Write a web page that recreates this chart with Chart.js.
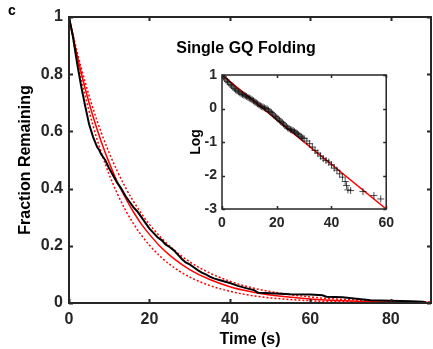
<!DOCTYPE html>
<html>
<head>
<meta charset="utf-8">
<script src="https://cdn.jsdelivr.net/npm/chart.js@4.4.0/dist/chart.umd.min.js"></script>
<style>
  html, body { margin: 0; padding: 0; background: #fff; }
  #wrap { position: relative; width: 433px; height: 349px; }
  #main { position: absolute; left: 0; top: 0; }
  #inset { position: absolute; left: 180px; top: 60px; }
</style>
</head>
<body>
<div id="wrap">
  <canvas id="main" width="433" height="349"></canvas>
  <canvas id="inset" width="220" height="180"></canvas>
</div>
<script>
// Main panel: measured survival curve
const dataTime = [0, 1, 2, 3, 4, 5, 6, 7, 7.5, 8, 9, 10, 11, 12, 13, 14, 15, 16, 17, 18, 19, 20, 21, 22, 23, 24, 25, 26, 27, 28, 29, 30, 31, 32, 33, 34, 35, 36, 38, 40, 42, 44, 46, 47, 50, 55, 60, 63, 64, 68, 72, 75, 80, 85, 88, 89];
const dataFrac = [1, 0.93, 0.84, 0.76, 0.69, 0.625, 0.58, 0.545, 0.535, 0.52, 0.5, 0.47, 0.445, 0.42, 0.4, 0.375, 0.355, 0.335, 0.32, 0.3, 0.28, 0.26, 0.245, 0.23, 0.22, 0.205, 0.196, 0.185, 0.17, 0.155, 0.142, 0.135, 0.125, 0.115, 0.106, 0.1, 0.092, 0.086, 0.078, 0.07, 0.06, 0.052, 0.045, 0.036, 0.034, 0.031, 0.03, 0.027, 0.022, 0.02, 0.014, 0.01, 0.008, 0.006, 0.004, 0];

// Main panel: fit and its bounds
const fitTime  = [0, 2, 4, 6, 8, 10, 12, 14, 16, 18, 20, 23, 26, 30, 35, 40, 45, 50, 60, 70, 80, 90];
const fitFrac  = [1, 0.867, 0.751, 0.651, 0.565, 0.49, 0.424, 0.368, 0.319, 0.276, 0.24, 0.193, 0.156, 0.117, 0.082, 0.057, 0.04, 0.028, 0.014, 0.007, 0.003, 0.002];
const upperFrac = [1, 0.879, 0.773, 0.679, 0.597, 0.525, 0.461, 0.405, 0.356, 0.313, 0.275, 0.227, 0.187, 0.144, 0.105, 0.076, 0.055, 0.04, 0.021, 0.011, 0.006, 0.003];
const lowerFrac = [1, 0.852, 0.726, 0.619, 0.527, 0.449, 0.383, 0.326, 0.278, 0.237, 0.202, 0.159, 0.125, 0.091, 0.061, 0.041, 0.027, 0.018, 0.008, 0.004, 0.002, 0.001];

// Inset: log of the data and linear fit
const logTime = [0, 0.5, 1, 1.5, 2, 2.5, 3, 3.5, 4, 4.5, 5, 5.5, 6, 6.5, 7, 7.5, 8, 8.5, 9, 9.5, 10, 10.5, 11, 11.5, 12, 12.5, 13, 13.5, 14, 14.5, 15, 15.5, 16, 16.5, 17, 17.5, 18, 18.5, 19, 19.5, 20, 20.5, 21, 21.5, 22, 22.5, 23, 23.5, 24, 24.5, 25, 25.5, 26, 26.5, 27, 27.5, 28, 28.5, 29, 29.5, 30, 31, 32, 33, 34, 35, 36, 37, 38, 39, 40, 41, 42, 43, 44, 45, 45.5, 46, 47, 51.5, 55.5, 58];
const logVal  = [1, 0.95, 0.9, 0.85, 0.8, 0.77, 0.72, 0.68, 0.64, 0.6, 0.56, 0.53, 0.5, 0.47, 0.44, 0.42, 0.4, 0.38, 0.36, 0.33, 0.31, 0.29, 0.26, 0.23, 0.2, 0.17, 0.14, 0.11, 0.08, 0.06, 0.04, 0.02, 0, -0.02, -0.05, -0.09, -0.12, -0.16, -0.2, -0.24, -0.28, -0.31, -0.35, -0.39, -0.42, -0.46, -0.5, -0.54, -0.58, -0.6, -0.63, -0.64, -0.66, -0.69, -0.72, -0.75, -0.78, -0.82, -0.85, -0.88, -0.9, -0.97, -1.05, -1.15, -1.25, -1.33, -1.42, -1.5, -1.55, -1.6, -1.68, -1.78, -1.84, -1.95, -2.05, -2.18, -2.3, -2.43, -2.45, -2.48, -2.6, -2.7];
const logFitTime = [0, 60];
const logFitVal  = [1, -3];

// Tick values and labels
const xTicks = [0, 20, 40, 60, 80];
const yTicks = [0, 0.2, 0.4, 0.6, 0.8, 1];
const yTickLabels = ['0', '0.2', '0.4', '0.6', '0.8', '1'];
const insetXTicks = [0, 20, 40, 60];
const insetYTicks = [-3, -2, -1, 0, 1];

const axisColor = '#262626';
const fontFamily = "'Liberation Sans', Arial, Helvetica, sans-serif";
const pts = (xs, ys) => xs.map((x, i) => ({ x, y: ys[i] }));

const boxPlugin = {
  id: 'box',
  afterDraw(chart, args, opts) {
    const { ctx, chartArea: a, scales: { x, y } } = chart;
    const len = opts.len;
    ctx.save();
    ctx.strokeStyle = axisColor;
    ctx.lineWidth = opts.width;
    ctx.beginPath();
    x.ticks.forEach(t => {
      const px = Math.round(x.getPixelForValue(t.value)) + 0.5;
      ctx.moveTo(px, a.bottom); ctx.lineTo(px, a.bottom - len);
      ctx.moveTo(px, a.top); ctx.lineTo(px, a.top + len);
    });
    y.ticks.forEach(t => {
      const py = Math.round(y.getPixelForValue(t.value)) + 0.5;
      ctx.moveTo(a.left, py); ctx.lineTo(a.left + len, py);
      ctx.moveTo(a.right, py); ctx.lineTo(a.right - len, py);
    });
    ctx.stroke();
    ctx.strokeRect(a.left, a.top, a.right - a.left, a.bottom - a.top);
    ctx.restore();
  }
};

const labelPlugin = {
  id: 'labels',
  afterDraw(chart) {
    const { ctx, scales: { x, y } } = chart;
    ctx.save();
    ctx.fillStyle = '#000';
    ctx.font = 'bold 14px ' + fontFamily;
    ctx.textAlign = 'left';
    ctx.textBaseline = 'middle';
    ctx.fillText('c', 8, 11);
    ctx.font = 'bold 16px ' + fontFamily;
    ctx.textAlign = 'center';
    ctx.fillText('Single GQ Folding', x.getPixelForValue(44), y.getPixelForValue(0.89));
    ctx.restore();
  }
};

const useTicks = (values) => (scale) => {
  scale.ticks = values.map(v => ({ value: v }));
};

new Chart(document.getElementById('main'), {
  type: 'scatter',
  data: {
    datasets: [
      {
        label: 'Data',
        data: pts(dataTime, dataFrac),
        showLine: true,
        borderColor: '#000',
        borderWidth: 2,
        pointRadius: 0
      },
      {
        label: 'Upper',
        data: pts(fitTime, upperFrac),
        showLine: true,
        borderColor: '#ff0000',
        borderWidth: 1.5,
        borderDash: [2, 2],
        cubicInterpolationMode: 'monotone',
        pointRadius: 0
      },
      {
        label: 'Lower',
        data: pts(fitTime, lowerFrac),
        showLine: true,
        borderColor: '#ff0000',
        borderWidth: 1.5,
        borderDash: [2, 2],
        cubicInterpolationMode: 'monotone',
        pointRadius: 0
      },
      {
        label: 'Fit',
        data: pts(fitTime, fitFrac),
        showLine: true,
        borderColor: '#ff0000',
        borderWidth: 1.5,
        cubicInterpolationMode: 'monotone',
        pointRadius: 0
      }
    ]
  },
  options: {
    responsive: false,
    animation: false,
    layout: { padding: { left: 0, top: 17, right: 2, bottom: 0 } },
    plugins: {
      legend: { display: false },
      tooltip: { enabled: false },
      box: { len: 4, width: 2 }
    },
    scales: {
      x: {
        type: 'linear', min: 0, max: 90,
        afterBuildTicks: useTicks(xTicks),
        afterFit: (s) => { s.height = 46; },
        grid: { display: false, drawTicks: false },
        border: { display: false },
        ticks: { color: axisColor, padding: 7, font: { family: fontFamily, size: 16, weight: 'bold' } },
        title: { display: true, text: 'Time (s)', color: '#000', padding: { top: 0, bottom: 0 }, font: { family: fontFamily, size: 16, weight: 'bold' } }
      },
      y: {
        type: 'linear', min: 0, max: 1,
        afterBuildTicks: useTicks(yTicks),
        afterFit: (s) => { s.width = 69; },
        grid: { display: false, drawTicks: false },
        border: { display: false },
        ticks: {
          color: axisColor, padding: 6,
          font: { family: fontFamily, size: 16, weight: 'bold' },
          callback: (v) => yTickLabels[yTicks.indexOf(v)]
        },
        title: { display: true, text: 'Fraction Remaining', color: '#000', padding: { top: 16, bottom: 0 }, font: { family: fontFamily, size: 16, weight: 'bold' } }
      }
    }
  },
  plugins: [boxPlugin, labelPlugin]
});

new Chart(document.getElementById('inset'), {
  type: 'scatter',
  data: {
    datasets: [
      {
        label: 'Log data',
        data: pts(logTime, logVal),
        pointStyle: 'cross',
        pointRadius: 3.5,
        borderWidth: 1,
        borderColor: 'rgba(0,0,0,0.7)',
        backgroundColor: 'rgba(0,0,0,0.7)'
      },
      {
        label: 'Log fit',
        data: pts(logFitTime, logFitVal),
        showLine: true,
        borderColor: '#ff0000',
        borderWidth: 1.5,
        pointRadius: 0
      }
    ]
  },
  options: {
    responsive: false,
    animation: false,
    layout: { padding: { left: 0, top: 15, right: 9, bottom: 0 } },
    plugins: {
      legend: { display: false },
      tooltip: { enabled: false },
      box: { len: 3, width: 1.5 }
    },
    scales: {
      x: {
        type: 'linear', min: 0, max: 60,
        afterBuildTicks: useTicks(insetXTicks),
        afterFit: (s) => { s.height = 31; },
        grid: { display: false, drawTicks: false },
        border: { display: false },
        ticks: { color: axisColor, padding: 6, font: { family: fontFamily, size: 14, weight: 'bold' } }
      },
      y: {
        type: 'linear', min: -3, max: 1,
        afterBuildTicks: useTicks(insetYTicks),
        afterFit: (s) => { s.width = 42; },
        grid: { display: false, drawTicks: false },
        border: { display: false },
        ticks: { color: axisColor, padding: 5, font: { family: fontFamily, size: 14, weight: 'bold' } },
        title: { display: true, text: 'Log', color: '#000', padding: { top: 8, bottom: 0 }, font: { family: fontFamily, size: 14, weight: 'bold' } }
      }
    }
  },
  plugins: [boxPlugin]
});
</script>
</body>
</html>
